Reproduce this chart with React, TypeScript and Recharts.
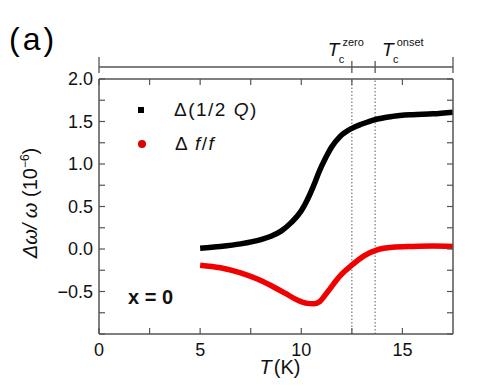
import { LineChart, Line, XAxis, YAxis, ReferenceLine, Legend } from "recharts";

// black: Δ(1/2Q)
const tQ = [5, 6, 7, 8, 8.5, 9, 9.5, 10, 10.3, 10.6, 10.9, 11.2, 11.5, 11.9, 12.5, 13, 13.6, 14.5, 15.5, 16.5, 17.5];
const qVals = [0.01, 0.03, 0.06, 0.11, 0.15, 0.21, 0.31, 0.45, 0.58, 0.74, 0.92, 1.07, 1.2, 1.32, 1.42, 1.47, 1.52, 1.56, 1.58, 1.59, 1.61];

// red: Δf/f
const tF = [5, 6, 7, 7.8, 8.5, 9.2, 9.8, 10.3, 10.6, 10.9, 11.25, 11.6, 11.9, 12.5, 13.1, 13.75, 14.5, 15.5, 16.5, 17.5];
const fVals = [-0.19, -0.22, -0.28, -0.35, -0.43, -0.52, -0.6, -0.64, -0.645, -0.62, -0.52, -0.41, -0.32, -0.19, -0.08, -0.01, 0.02, 0.03, 0.035, 0.03];

const xTicks = [0, 2.5, 5, 7.5, 10, 12.5, 15];
const yTicks = [-1, -0.75, -0.5, -0.25, 0, 0.25, 0.5, 0.75, 1, 1.25, 1.5, 1.75, 2];
const tcZero = 12.5;
const tcOnset = 13.65;
const tcTicks = [0, tcZero, tcOnset, 17.5];

const qData = tQ.map((t, i) => ({ T: t, v: qVals[i] }));
const fData = tF.map((t, i) => ({ T: t, v: fVals[i] }));

const AX = "#555";
const FONT = "'Liberation Sans', Arial, sans-serif";

const isMajor = (v: number, step: number) => Math.abs(v / step - Math.round(v / step)) < 1e-6;
const fmt = (v: number) => v.toFixed(1).replace("-", "\u2212");

const LeftTick = ({ x, y, payload }: any) => {
  const v = payload.value;
  if (!isMajor(v, 0.5) || v <= -1) return <g />;
  return (
    <text x={x} y={y} dy="0.36em" textAnchor="end" fontSize={18} fill="#111" fontFamily={FONT}>
      {fmt(v)}
    </text>
  );
};

const BottomTick = ({ x, y, payload }: any) => {
  const v = payload.value;
  if (!isMajor(v, 5)) return <g />;
  return (
    <text x={x} y={y} dy="0.75em" textAnchor="middle" fontSize={18} fill="#111" fontFamily={FONT}>
      {v}
    </text>
  );
};

const NoTick = () => <g />;

// T_c labels: "zero" sits left of its tick, "onset" right of its tick
const TcTick = ({ x, y, payload }: any) => {
  const v = payload.value;
  const end = v === 0 || v === 17.5;
  const name = v === tcZero ? "zero" : v === tcOnset ? "onset" : null;
  const lx = v === tcZero ? x - 24 : x + 7;
  return (
    <g>
      <path d={`M${x},${y} V${y - (end ? 10 : 6)}`} stroke={AX} strokeWidth={1.3} fill="none" />
      {name && (
        <text x={lx} y={y - 11} fontFamily={FONT} fill="#111">
          <tspan fontSize={19} fontStyle="italic">T</tspan>
          <tspan fontSize={11} dx={3} dy={-10}>{name}</tspan>
          <tspan fontSize={11} x={lx + 11} dy={17}>c</tspan>
        </text>
      )}
    </g>
  );
};

const YLabel = () => (
  <text
    transform="translate(37,203) rotate(-90)"
    textAnchor="middle"
    fontFamily={FONT}
    fontSize={20}
    fill="#111"
  >
    <tspan fontStyle="italic">Δω/ ω</tspan>
    <tspan> (10</tspan>
    <tspan fontSize={12} dy={-8}>{"\u22126"}</tspan>
    <tspan dy={8}>)</tspan>
  </text>
);

const XLabel = () => (
  <text x={280} y={374} textAnchor="middle" fontFamily={FONT} fontSize={20} fill="#111">
    <tspan fontStyle="italic">T</tspan>
    <tspan dx={2}>(K)</tspan>
  </text>
);

const LegendBox = () => (
  <div style={{ fontFamily: FONT, fontSize: 19, color: "#111", lineHeight: "34px", letterSpacing: 1.5 }}>
    <div style={{ display: "flex", alignItems: "center" }}>
      <span style={{ width: 6, height: 6, background: "#000", display: "inline-block", marginRight: 30 }} />
      <span>
        Δ(1/2 <i>Q</i>)
      </span>
    </div>
    <div style={{ display: "flex", alignItems: "center" }}>
      <span
        style={{ width: 8, height: 8, borderRadius: 4, background: "#e00000", display: "inline-block", marginRight: 29 }}
      />
      <span>
        Δ <i>f</i>/<i>f</i>
      </span>
    </div>
  </div>
);

const tickLineStyle = { stroke: AX, strokeWidth: 1.2 };
const axisLineStyle = { stroke: AX, strokeWidth: 1.5 };

export default function App() {
  return (
    <div style={{ position: "absolute", left: 0, top: 0, width: 480, height: 392, background: "#fff" }}>
      <div
        style={{
          position: "absolute",
          left: 9,
          top: 21,
          fontFamily: FONT,
          fontSize: 32,
          letterSpacing: 3,
          color: "#000",
        }}
      >
        (a)
      </div>
      <LineChart width={480} height={392} margin={{ top: 27, right: 0, bottom: 28, left: 39 }}>
        <XAxis
          xAxisId="main"
          dataKey="T"
          type="number"
          domain={[0, 17.5]}
          ticks={xTicks}
          allowDataOverflow
          height={30}
          tickSize={-6}
          tickMargin={14}
          tickLine={tickLineStyle}
          tick={<BottomTick />}
          axisLine={axisLineStyle}
          interval={0}
          label={<XLabel />}
        />
        <XAxis
          xAxisId="axTop1"
          orientation="top"
          dataKey="T"
          type="number"
          domain={[0, 17.5]}
          ticks={xTicks}
          allowDataOverflow
          height={12}
          tickSize={-6}
          tickLine={tickLineStyle}
          tick={<NoTick />}
          axisLine={axisLineStyle}
          interval={0}
        />
        <XAxis
          xAxisId="axTop2"
          orientation="top"
          dataKey="T"
          type="number"
          domain={[0, 17.5]}
          ticks={tcTicks}
          allowDataOverflow
          height={40}
          tickSize={-6}
          tickMargin={6}
          tickLine={{ stroke: AX, strokeWidth: 1.3 }}
          tick={<TcTick />}
          axisLine={{ stroke: AX, strokeWidth: 1.3 }}
          interval={0}
        />
        <YAxis
          yAxisId="main"
          type="number"
          domain={[-1, 2]}
          ticks={yTicks}
          allowDataOverflow
          width={60}
          tickSize={-6}
          tickMargin={12}
          tickLine={tickLineStyle}
          tick={<LeftTick />}
          axisLine={axisLineStyle}
          interval={0}
          label={<YLabel />}
        />
        <YAxis
          yAxisId="right"
          orientation="right"
          type="number"
          domain={[-1, 2]}
          ticks={yTicks}
          allowDataOverflow
          width={27}
          tickSize={-6}
          tickLine={tickLineStyle}
          tick={<NoTick />}
          axisLine={axisLineStyle}
          interval={0}
        />
        <ReferenceLine xAxisId="main" yAxisId="main" x={tcZero} stroke="#777" strokeDasharray="1.5 2" strokeWidth={1.2} />
        <ReferenceLine xAxisId="main" yAxisId="main" x={tcOnset} stroke="#777" strokeDasharray="1.5 2" strokeWidth={1.2} />
        <Line
          xAxisId="axTop1"
          yAxisId="right"
          data={qData}
          dataKey="v"
          stroke="none"
          dot={false}
          legendType="none"
          isAnimationActive={false}
        />
        <Line
          xAxisId="axTop2"
          yAxisId="right"
          data={fData}
          dataKey="v"
          stroke="none"
          dot={false}
          legendType="none"
          isAnimationActive={false}
        />
        <Line
          xAxisId="main"
          yAxisId="main"
          data={qData}
          dataKey="v"
          type="monotone"
          stroke="#000"
          strokeWidth={5.5}
          dot={false}
          isAnimationActive={false}
        />
        <Line
          xAxisId="main"
          yAxisId="main"
          data={fData}
          dataKey="v"
          type="monotone"
          stroke="#f00000"
          strokeWidth={5.5}
          dot={false}
          isAnimationActive={false}
        />
        <Legend
          layout="vertical"
          align="center"
          verticalAlign="middle"
          content={<LegendBox />}
          wrapperStyle={{ left: 138, top: 93, width: 200 }}
        />
      </LineChart>
      <div
        style={{
          position: "absolute",
          left: 128,
          top: 286,
          fontFamily: FONT,
          fontSize: 20,
          fontWeight: "bold",
          color: "#111",
        }}
      >
        x = 0
      </div>
    </div>
  );
}
